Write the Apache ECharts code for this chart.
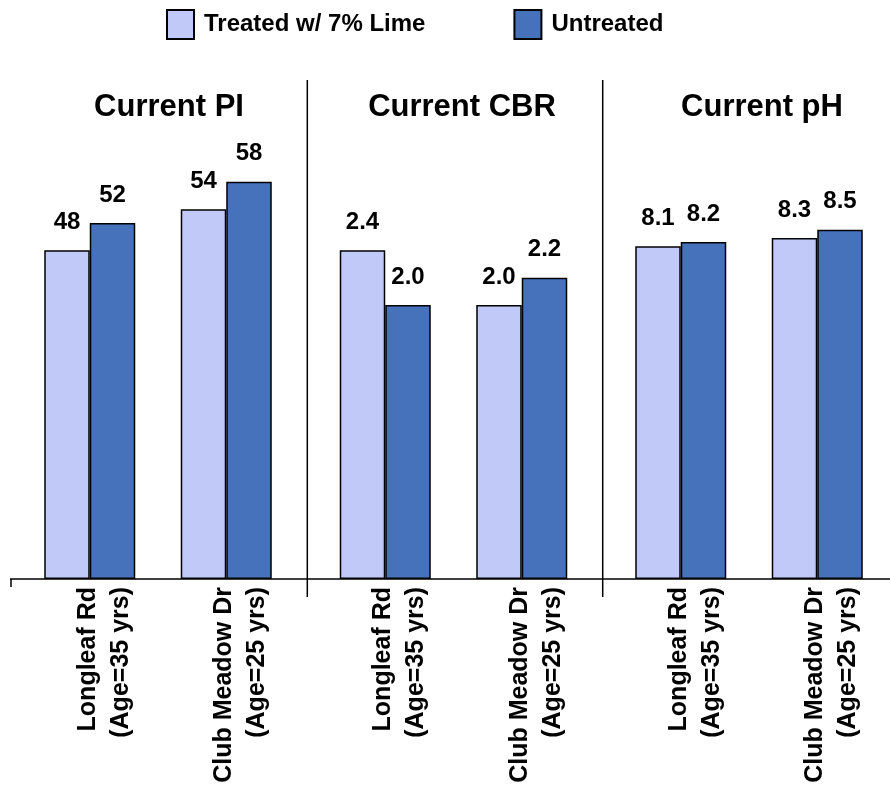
<!DOCTYPE html>
<html>
<head>
<meta charset="utf-8">
<script src="https://cdn.jsdelivr.net/npm/echarts@6/dist/echarts.min.js"></script>
<style>
  html, body { margin: 0; padding: 0; background: #fff; }
  #chart { width: 890px; height: 788px; }
</style>
</head>
<body>
<div id="chart"></div>
<script>
// Road sites, one category per site
const categories = ['Longleaf Rd\n(Age=35 yrs)', 'Club Meadow Dr\n(Age=25 yrs)'];

// Panel headings
const panelTitles = ['Current PI', 'Current CBR', 'Current pH'];

// Series names
const seriesNames = ['Treated w/ 7% Lime', 'Untreated'];

// Measured values per panel: [Longleaf, Club Meadow]
const treatedPI = [48, 54];
const untreatedPI = [52, 58];
const treatedCBR = [2.4, 2.0];
const untreatedCBR = [2.0, 2.2];
const treatedPH = [8.1, 8.3];
const untreatedPH = [8.2, 8.5];

// Value axis upper bounds and label decimals per panel
const axisMax = [72, 3.6, 12];
const labelDecimals = [0, 1, 1];

const treatedSets = [treatedPI, treatedCBR, treatedPH];
const untreatedSets = [untreatedPI, untreatedCBR, untreatedPH];

const FONT = "'Liberation Sans', Arial, sans-serif";
const LIGHT = '#C0C9F8';
const DARK = '#4672BC';
const BASE_Y = 579;
const GRID_TOP = 86;
const GRID_LEFTS = [21.5, 317, 612.5];
const GRID_W = 273;
const TITLE_X = [169, 462, 762];

// Two-line site label; a small leading spacer line keeps the site name near the tick
function siteLabel(value) {
  const lines = String(value).split('\n');
  return '{g| }\n' + lines.map(l => '{a|' + l + '}').join('\n');
}

const grids = [], xAxes = [], yAxes = [], series = [], titles = [];

for (let p = 0; p < 3; p++) {
  grids.push({ left: GRID_LEFTS[p], width: GRID_W, top: GRID_TOP, height: BASE_Y - GRID_TOP });
  xAxes.push({
    type: 'category', gridIndex: p, data: categories,
    axisLine: { show: false }, axisTick: { show: false },
    axisLabel: {
      interval: 0, rotate: 90, margin: 8,
      formatter: siteLabel,
      rich: {
        g: { fontSize: 10, lineHeight: 29 },
        a: { fontFamily: FONT, fontSize: 25, fontWeight: 'bold', color: '#000', lineHeight: 33 }
      }
    }
  });
  yAxes.push({
    type: 'value', gridIndex: p, min: 0, max: axisMax[p],
    show: false, splitLine: { show: false }
  });
  const dec = labelDecimals[p];
  const mk = (name, data, color) => ({
    name, type: 'bar', xAxisIndex: p, yAxisIndex: p, data,
    barWidth: 45.5, barGap: '0%',
    itemStyle: { color, borderColor: '#000', borderWidth: 1.5 },
    label: {
      show: true, position: 'top', distance: 16,
      fontFamily: FONT, fontSize: 24, fontWeight: 'bold', color: '#000',
      formatter: (d) => Number(d.value).toFixed(dec)
    },
    emphasis: { disabled: true }, animation: false
  });
  series.push(mk(seriesNames[0], treatedSets[p], LIGHT));
  series.push(mk(seriesNames[1], untreatedSets[p], DARK));
  titles.push({
    text: panelTitles[p], left: TITLE_X[p], top: 92, textAlign: 'center', padding: 0,
    textStyle: { fontFamily: FONT, fontSize: 31, fontWeight: 'bold', color: '#000' }
  });
}

// Baseline, end tick and panel dividers
const lineStyle = { stroke: '#000', lineWidth: 1.5 };
const graphics = [
  { type: 'line', shape: { x1: 10, y1: BASE_Y, x2: 890, y2: BASE_Y }, style: lineStyle },
  { type: 'line', shape: { x1: 11, y1: BASE_Y, x2: 11, y2: 587 }, style: lineStyle },
  { type: 'line', shape: { x1: 307.3, y1: 80, x2: 307.3, y2: 597 }, style: lineStyle },
  { type: 'line', shape: { x1: 602.7, y1: 80, x2: 602.7, y2: 597 }, style: lineStyle }
];

const chart = echarts.init(document.getElementById('chart'), null, { renderer: 'canvas' });
chart.setOption({
  animation: false,
  title: titles,
  legend: {
    data: seriesNames, left: 161, top: 4,
    itemWidth: 27, itemHeight: 29, itemGap: 88,
    icon: 'rect',
    textStyle: { fontFamily: FONT, fontSize: 24, fontWeight: 'bold', color: '#000', padding: [0, 0, 0, 5] },
    selectedMode: false
  },
  grid: grids,
  xAxis: xAxes,
  yAxis: yAxes,
  series: series,
  graphic: graphics
});
</script>
</body>
</html>
